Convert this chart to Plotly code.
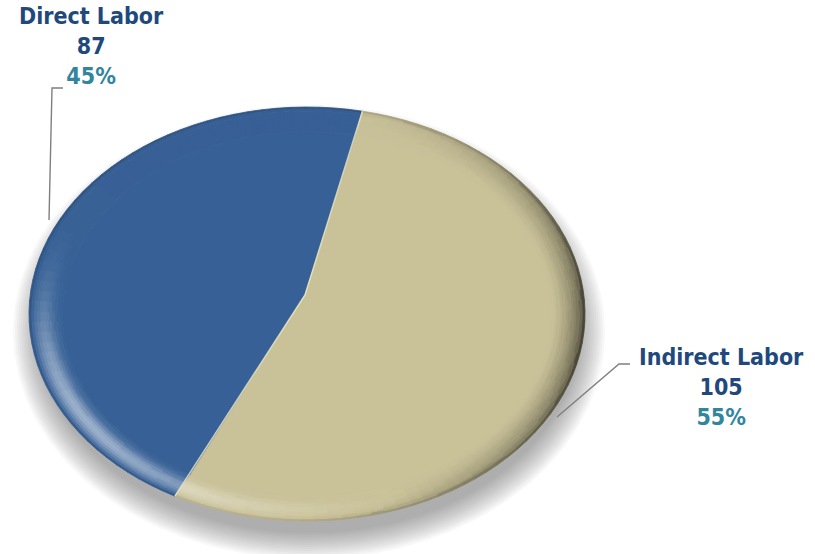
import numpy as np
import plotly.graph_objects as go

# ---- data -------------------------------------------------------------
categories = ["Direct Labor", "Indirect Labor"]
values = [87, 105]

# ---- styling ----------------------------------------------------------
slice_rgb = [(55, 97, 150), (201, 193, 152)]
name_color = "#1F497D"
pct_color = "#31859C"
leader_color = "#7F7F7F"
FONT = "DejaVu Sans Condensed, DejaVu Sans, sans-serif"

W, H = 815, 554
CX, CY = 307.0, 314.0      # ellipse centre (plot units = pixels)
RX, RY = 278.0, 207.0      # ellipse radii
APEX = (305.0, 295.0)      # where the slices meet (tilted view)
START = 78.5               # parametric angle where the first slice starts (deg, CCW)
LIGHT = 222.0              # rim highlight direction (deg)
DARK = 355.0               # rim shade direction (deg)
S_IN = 0.88                # inner edge of the bevelled rim (fraction of radius)
N_BANDS = 12
SEG = 3.0                  # angular step of the rim tiles (deg)

total = sum(values)
spans = [360.0 * v / total for v in values]
starts = [START + sum(spans[:i]) for i in range(len(values))]
pcts = [round(100.0 * v / total) for v in values]


def rim(t_deg, s=1.0):
    t = np.radians(t_deg)
    return CX + s * RX * np.cos(t), CY - s * RY * np.sin(t)


def normal_deg(t_deg):
    t = np.radians(t_deg)
    return np.degrees(np.arctan2(np.sin(t) / RY, np.cos(t) / RX))


def shade(rgb, nd, u):
    lit = max(0.0, np.cos(np.radians(nd - LIGHT))) ** 3
    dim = max(0.0, np.cos(np.radians(nd - DARK))) ** 1.4
    f = lit * 0.5 * np.exp(-((u - 0.55) / 0.3) ** 2) - dim * 0.55 * u ** 1.5
    ramp = max(0.0, (u - 0.8) / 0.2)
    f -= 0.2 * ramp ** 2
    c = np.array(rgb, dtype=float)
    c = c + (255 - c) * f if f >= 0 else c * (1 + f)
    c = np.clip(np.round(c / 2) * 2, 0, 255).astype(int)
    return "rgb(%d,%d,%d)" % tuple(c)


fig = go.Figure()

# soft drop shadow under the disc
tt = np.linspace(0, 360, 241)
for d in np.arange(-10, 18, 2):
    sx = CX + 2 + (RX + 2 + d) * np.cos(np.radians(tt))
    sy = CY + 18 - (RY + 4 + d) * np.sin(np.radians(tt))
    fig.add_trace(go.Scatter(x=sx, y=sy, mode="lines", fill="toself",
                             line=dict(width=0), fillcolor="rgba(70,70,70,0.04)",
                             hoverinfo="skip", showlegend=False))

# bevelled rim, tiled and grouped by colour
band_edges = np.linspace(1.0, S_IN, N_BANDS + 1)
groups = {}
for rgb, t0, span in zip(slice_rgb, starts, spans):
    nseg = int(np.ceil(span / SEG))
    ts = np.linspace(t0, t0 + span, nseg + 1)
    for k in range(N_BANDS):
        so, si = band_edges[k], band_edges[k + 1]
        u = ((so + si) / 2 - S_IN) / (1 - S_IN)
        for a, b in zip(ts[:-1], ts[1:]):
            col = shade(rgb, normal_deg((a + b) / 2), u)
            arc = np.linspace(a, b, 3)
            xo, yo = rim(arc, so)
            xi, yi = rim(arc[::-1], si)
            gx, gy = groups.setdefault(col, ([], []))
            gx.extend(list(xo) + list(xi) + [xo[0], None])
            gy.extend(list(yo) + list(yi) + [yo[0], None])

for col, (gx, gy) in groups.items():
    fig.add_trace(go.Scatter(x=gx, y=gy, mode="lines", fill="toself",
                             fillcolor=col, line=dict(color=col, width=0.8),
                             hoverinfo="skip", showlegend=False))

# slice faces
for cat, v, rgb, t0, span in zip(categories, values, slice_rgb, starts, spans):
    arc = np.linspace(t0, t0 + span, 200)
    ax, ay = rim(arc, S_IN)
    px = [APEX[0]] + list(ax) + [APEX[0]]
    py = [APEX[1]] + list(ay) + [APEX[1]]
    col = "rgb(%d,%d,%d)" % rgb
    fig.add_trace(go.Scatter(x=px, y=py, mode="lines", fill="toself",
                             fillcolor=col, line=dict(color=col, width=0.8),
                             name=cat, text="%s: %d" % (cat, v),
                             hoverinfo="text", showlegend=False))

# light seam between the slices
sx0, sy0 = rim(starts[1] + spans[1], 1.0)
sx1, sy1 = rim(starts[1], 1.0)
fig.add_trace(go.Scatter(x=[sx0, APEX[0], sx1], y=[sy0, APEX[1], sy1],
                         mode="lines", line=dict(color="rgba(240,234,200,0.8)", width=1.5),
                         hoverinfo="skip", showlegend=False))

# data labels with leader lines
label_xy = [(91, 46), (721, 387)]
leaders = [([63, 52, 49], [88, 88, 220]), ([630, 619, 557], [364, 364, 417])]
for (lx, ly), cat, v, p in zip(label_xy, categories, values, pcts):
    fig.add_annotation(
        x=lx, y=ly, xref="x", yref="y", showarrow=False,
        xanchor="center", yanchor="middle", align="center",
        text="<b>%s</b><br><b>%d</b><br><b><span style='color:%s'>%d%%</span></b>"
             % (cat, v, pct_color, p),
        font=dict(family=FONT, size=23, color=name_color))
for lxs, lys in leaders:
    fig.add_trace(go.Scatter(x=lxs, y=lys, mode="lines",
                             line=dict(color=leader_color, width=1.4),
                             hoverinfo="skip", showlegend=False))

fig.update_xaxes(range=[0, W], visible=False, fixedrange=True)
fig.update_yaxes(range=[H, 0], visible=False, fixedrange=True)
fig.update_layout(width=W, height=H, margin=dict(l=0, r=0, t=0, b=0),
                  paper_bgcolor="white", plot_bgcolor="white", showlegend=False)

fig.write_html("out.html", config={"displayModeBar": False})
